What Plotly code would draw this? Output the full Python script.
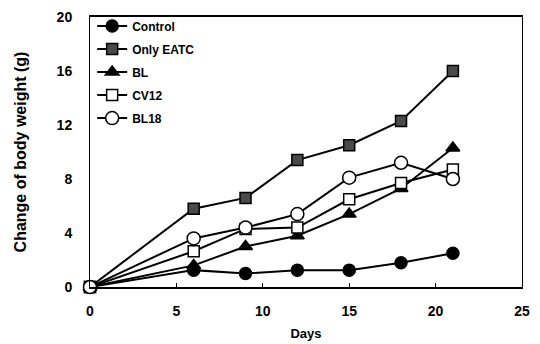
import plotly.graph_objects as go

days = [0, 6, 9, 12, 15, 18, 21]
control = [0, 1.25, 1.0, 1.25, 1.25, 1.8, 2.5]
only_eatc = [0, 5.8, 6.6, 9.4, 10.5, 12.3, 16.0]
bl = [0, 1.6, 3.0, 3.8, 5.4, 7.3, 10.3]
cv12 = [0, 2.65, 4.3, 4.4, 6.5, 7.7, 8.7]
bl18 = [0, 3.6, 4.4, 5.4, 8.1, 9.2, 8.0]

series = [
    ("Control", control, dict(symbol="circle", size=12, color="black", line=dict(color="black", width=1.5))),
    ("Only EATC", only_eatc, dict(symbol="square", size=11, color="#4a4a4a", line=dict(color="black", width=1.5))),
    ("BL", bl, dict(symbol="triangle-up", size=12, color="black", line=dict(color="black", width=1.5))),
    ("CV12", cv12, dict(symbol="square", size=11, color="white", line=dict(color="black", width=1.5))),
    ("BL18", bl18, dict(symbol="circle", size=13, color="white", line=dict(color="black", width=1.5))),
]

fig = go.Figure()
for name, vals, mk in series:
    fig.add_trace(go.Scatter(
        x=days, y=vals, name=name, legendgroup=name, mode="lines+markers",
        line=dict(color="black", width=2), marker=mk, cliponaxis=False,
    ))

fam = "Liberation Sans, Arial, sans-serif"
fig.update_layout(
    width=540, height=344,
    margin=dict(l=90, r=18, t=15, b=57),
    paper_bgcolor="white", plot_bgcolor="white",
    font=dict(family=fam, size=12, color="black"),
    showlegend=True,
    legend=dict(x=0.005, y=1.02, xanchor="left", yanchor="top",
                bgcolor="rgba(0,0,0,0)", borderwidth=0,
                font=dict(family=fam, size=12, color="black", weight="bold"),
                tracegroupgap=4, itemwidth=30),
)
fig.update_xaxes(
    range=[0, 25], tickvals=[0, 5, 10, 15, 20, 25], automargin=False,
    showgrid=False, zeroline=False, showline=True, linecolor="black", linewidth=1.5,
    mirror=True, ticks="inside", ticklen=4, tickcolor="black",
    tickfont=dict(size=14, weight="bold"), ticklabelstandoff=10,
    title=dict(text="<b>Days</b>", font=dict(size=13), standoff=11),
)
fig.update_yaxes(
    range=[0, 20], tickvals=[0, 4, 8, 12, 16, 20], automargin=False,
    showgrid=False, zeroline=False, showline=True, linecolor="black", linewidth=1,
    mirror=True, ticks="", tickfont=dict(size=14, weight="bold"), ticklabelstandoff=14,
    title=dict(text="<b>Change of body weight (g)</b>", font=dict(size=16), standoff=26),
)
fig.write_html("out.html")
